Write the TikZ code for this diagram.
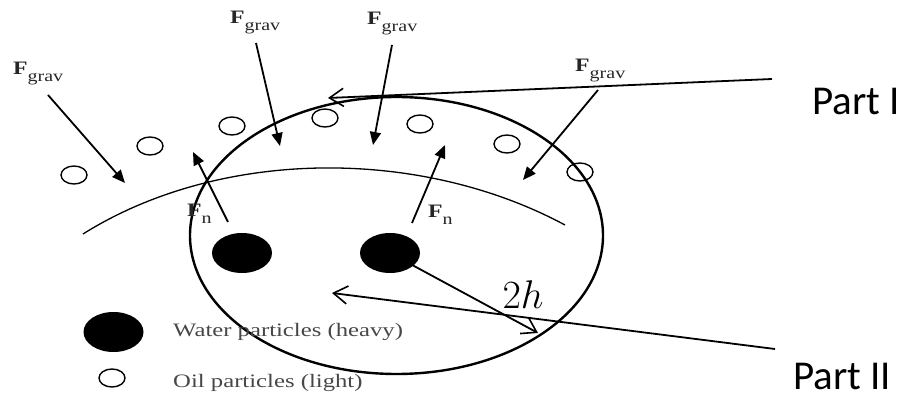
\documentclass[tikz,border=0pt]{standalone}
\usepackage{graphicx}
\usepackage{fontspec}
\setmainfont{Liberation Serif}
\newfontfamily\calib{Carlito}
\usetikzlibrary{arrows.meta,shapes.geometric}
\newcommand\Fsym[1]{\scalebox{1.25}[1]{\fontsize{19}{19}\selectfont\textbf{F}\raisebox{-7pt}{\fontsize{16}{16}\selectfont #1}}}
\begin{document}
\begin{tikzpicture}[x=1pt,y=-1pt,
  oil/.style={ellipse, draw, line width=1.4pt, minimum width=26pt, minimum height=18pt, inner sep=0pt},
  water/.style={ellipse, fill=black, minimum width=60pt, minimum height=40pt, inner sep=0pt},
  flabel/.style={inner sep=0pt, anchor=base west, text=black!85},
  force/.style={line width=1.8pt, -{Triangle[length=13pt,width=11pt]}},
  callout/.style={line width=1.8pt, -{Straight Barb[length=14pt,width=18pt,line width=1.6pt]}},
  legend/.style={inner sep=0pt, anchor=west, text=black!72},
  part/.style={inner sep=0pt, anchor=base west, text depth=0pt, font=\calib\fontsize{41}{41}\selectfont}]
\useasboundingbox (0,0) rectangle (914,398);
% big circle (zone)
\node[ellipse, draw, line width=2.4pt, minimum width=413pt, minimum height=277pt, inner sep=0pt] (zone) at (396.5,235.5) {};
% oil/water interface
\coordinate (ifl) at (83,234);
\coordinate (ifr) at (565,225);
\draw[line width=1.3pt] (ifl) .. controls (220,148) and (420,147) .. (ifr);
% oil particles
\node[oil] (o1) at (74,175) {};
\node[oil] (o2) at (150,146) {};
\node[oil] (o3) at (232,126) {};
\node[oil] (o4) at (325,118) {};
\node[oil] (o5) at (420,124) {};
\node[oil] (o6) at (507,144) {};
\node[oil] (o7) at (580,172) {};
% water particles
\node[water] (w1) at (242,253) {};
\node[water] (w2) at (390,253) {};
% gravity forces
\node[flabel] (lg1) at (13,75) {\Fsym{grav}};
\node[flabel] (lg2) at (230,24) {\Fsym{grav}};
\node[flabel] (lg3) at (367,25) {\Fsym{grav}};
\node[flabel] (lg4) at (575,72) {\Fsym{grav}};
\coordinate (g1s) at (48,95);   \coordinate (g1e) at (125,183);
\coordinate (g2s) at (256,43);  \coordinate (g2e) at (280,146);
\coordinate (g3s) at (392,45);  \coordinate (g3e) at (373,145);
\coordinate (g4s) at (598,90);  \coordinate (g4e) at (523,180);
\draw[force] (g1s) -- (g1e);
\draw[force] (g2s) -- (g2e);
\draw[force] (g3s) -- (g3e);
\draw[force] (g4s) -- (g4e);
% normal forces
\node[flabel] (ln1) at (187,217) {\Fsym{n}};
\node[flabel] (ln2) at (428,218) {\Fsym{n}};
\coordinate (n1s) at (228,222); \coordinate (n1e) at (193,152);
\coordinate (n2s) at (412,223); \coordinate (n2e) at (445,145);
\draw[force] (n1s) -- (n1e);
\draw[force] (n2s) -- (n2e);
% radius 2h
\coordinate (rtip) at (538,333);
\draw[callout] (w2.center) -- (rtip);
\node[inner sep=0pt] (h2) at (523,295) {\scalebox{1.93}{\huge $2h$}};
% legend
\node[water] (lw) at (113.5,332) {};
\node[oil] (lo) at (112,378) {};
\node[legend] (lwt) at (173,332) {\scalebox{1.3}[1]{\fontsize{19}{19}\selectfont Water particles (heavy)}};
\node[legend] (lot) at (173,383) {\scalebox{1.3}[1]{\fontsize{19}{19}\selectfont Oil particles (light)}};
% part callouts
\node[part] (p1) at (812,115) {Part I};
\node[part] (p2) at (793,389) {Part II};
\coordinate (c1s) at (772,79);  \coordinate (c1t) at (328,98);
\coordinate (c2s) at (775,349); \coordinate (c2t) at (332,293);
\draw[callout] (c1s) -- (c1t);
\draw[callout] (c2s) -- (c2t);
\end{tikzpicture}
\end{document}
